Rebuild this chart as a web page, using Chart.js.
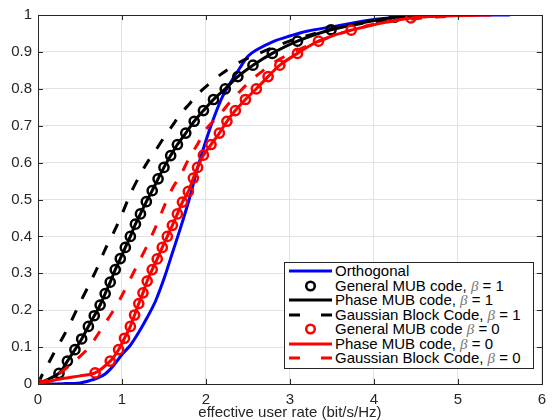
<!DOCTYPE html>
<html>
<head>
<meta charset="utf-8">
<script src="https://cdn.jsdelivr.net/npm/chart.js@4.4.1/dist/chart.umd.min.js"></script>
<style>
  html, body { margin: 0; padding: 0; background: #fff; }
  #wrap { position: relative; width: 553px; height: 420px; }
  #legend {
    position: absolute; left: 284px; top: 262px; width: 250px; height: 107px;
    border: 1px solid #262626; background: #fff; box-sizing: border-box;
    font: 15px "Liberation Sans", Arial, sans-serif; color: #000; padding-top: 1px;
  }
  .row { height: 14.5px; line-height: 14.5px; white-space: nowrap; display: flex; align-items: center; }
  .row svg { width: 50px; height: 14px; flex: none; }
  .beta { font-family: "Liberation Serif", serif; font-style: italic; color: #777; }
</style>
</head>
<body>
<div id="wrap">
  <canvas id="cdfChart" width="553" height="420"></canvas>
  <div id="legend"></div>
</div>
<script>
// Orthogonal
const orthX = [0, 0.3, 0.5, 0.6, 0.7, 0.8, 0.9, 1.0, 1.1, 1.2, 1.3, 1.4, 1.5, 1.6, 1.7, 1.8, 1.9, 2.0, 2.1, 2.2, 2.3, 2.4, 2.5, 2.6, 2.8, 3.0, 3.2, 3.5, 4.0, 4.5, 5.0, 5.62];
const orthY = [0, 0.001, 0.003, 0.008, 0.015, 0.027, 0.05, 0.08, 0.105, 0.14, 0.18, 0.225, 0.285, 0.355, 0.425, 0.5, 0.585, 0.66, 0.725, 0.78, 0.82, 0.855, 0.888, 0.905, 0.928, 0.943, 0.956, 0.968, 0.988, 0.997, 1.0, 1.0];

// General / Phase MUB code, beta = 1 (markers sit on the phase curve)
const mub1X = [0, 0.25, 0.35, 0.44, 0.52, 0.6, 0.67, 0.74, 0.8, 0.86, 0.92, 0.98, 1.04, 1.1, 1.16, 1.22, 1.29, 1.36, 1.43, 1.5, 1.58, 1.66, 1.76, 1.86, 1.97, 2.09, 2.23, 2.38, 2.56, 2.79, 3.09, 3.49, 4.25];
const mub1Y = [0, 0.029, 0.062, 0.093, 0.122, 0.156, 0.185, 0.214, 0.245, 0.276, 0.31, 0.34, 0.37, 0.40, 0.433, 0.461, 0.494, 0.524, 0.556, 0.587, 0.619, 0.649, 0.68, 0.712, 0.741, 0.771, 0.80, 0.833, 0.864, 0.896, 0.929, 0.96, 0.994];
const phase1X = mub1X.concat([4.8]);
const phase1Y = mub1Y.concat([1.0]);

// Gaussian block code, beta = 1
const gauss1X = [0, 0.05, 0.1, 0.2, 0.3, 0.4, 0.5, 0.6, 0.7, 0.8, 0.9, 1.0, 1.1, 1.2, 1.3, 1.4, 1.5, 1.6, 1.7, 1.8, 1.9, 2.0, 2.2, 2.4, 2.6, 2.8, 3.0, 3.3, 3.6, 4.0, 4.5, 5.0];
const gauss1Y = [0, 0.025, 0.045, 0.088, 0.128, 0.172, 0.22, 0.265, 0.312, 0.365, 0.41, 0.46, 0.515, 0.56, 0.6, 0.633, 0.668, 0.7, 0.733, 0.758, 0.785, 0.806, 0.843, 0.872, 0.893, 0.912, 0.93, 0.95, 0.967, 0.982, 0.994, 1.0];

// General / Phase MUB code, beta = 0
const mub0X = [0, 0.68, 0.86, 0.96, 1.03, 1.1, 1.15, 1.2, 1.25, 1.3, 1.36, 1.42, 1.48, 1.54, 1.6, 1.66, 1.72, 1.79, 1.85, 1.9, 1.97, 2.06, 2.16, 2.25, 2.35, 2.47, 2.6, 2.74, 2.88, 3.09, 3.34, 3.73, 4.44];
const mub0Y = [0, 0.03, 0.062, 0.093, 0.124, 0.156, 0.187, 0.218, 0.247, 0.279, 0.31, 0.339, 0.37, 0.40, 0.43, 0.461, 0.493, 0.522, 0.558, 0.587, 0.62, 0.649, 0.68, 0.712, 0.741, 0.771, 0.80, 0.833, 0.864, 0.896, 0.929, 0.959, 0.992];
const phase0X = [0, 0.1, 0.2, 0.36, 0.5].concat(mub0X.slice(1), [5.3]);
const phase0Y = [0, 0.005, 0.011, 0.017, 0.022].concat(mub0Y.slice(1), [1.0]);

// Gaussian block code, beta = 0
const gauss0X = [0, 0.2, 0.4, 0.6, 0.7, 0.8, 0.9, 1.0, 1.1, 1.2, 1.3, 1.4, 1.5, 1.6, 1.7, 1.8, 1.9, 2.0, 2.1, 2.2, 2.3, 2.4, 2.5, 2.6, 2.8, 3.0, 3.3, 3.6, 4.0, 4.5, 5.0, 5.4];
const gauss0Y = [0, 0.02, 0.055, 0.097, 0.13, 0.165, 0.2, 0.24, 0.285, 0.33, 0.375, 0.425, 0.48, 0.53, 0.567, 0.612, 0.65, 0.69, 0.715, 0.74, 0.768, 0.792, 0.815, 0.835, 0.87, 0.895, 0.925, 0.95, 0.975, 0.99, 0.998, 1.0];

const xTicks = [0, 1, 2, 3, 4, 5, 6];
const yTicks = [0, 0.1, 0.2, 0.3, 0.4, 0.5, 0.6, 0.7, 0.8, 0.9, 1];
const legendNames = ['Orthogonal', 'General MUB code, ', 'Phase MUB code, ', 'Gaussian Block Code, ', 'General MUB code ', 'Phase MUB code, ', 'Gaussian Block Code, '];
const legendBeta = ['', '1', '1', '1', '0', '0', '0'];

const pts = (xs, ys) => xs.map((x, i) => ({ x, y: ys[i] }));
const FONT = '"Liberation Sans", Arial, sans-serif';

const series = [
  { data: pts(orthX, orthY), color: '#0000ff', kind: 'line' },
  { data: pts(mub1X, mub1Y), color: '#000000', kind: 'marker' },
  { data: pts(phase1X, phase1Y), color: '#000000', kind: 'line' },
  { data: pts(gauss1X, gauss1Y), color: '#000000', kind: 'dash' },
  { data: pts(mub0X, mub0Y), color: '#ff0000', kind: 'marker' },
  { data: pts(phase0X, phase0Y), color: '#ff0000', kind: 'line' },
  { data: pts(gauss0X, gauss0Y), color: '#ff0000', kind: 'dash' }
];

const datasets = series.map((s, i) => ({
  label: legendNames[i] + legendBeta[i],
  data: s.data,
  borderColor: s.color,
  backgroundColor: 'transparent',
  borderWidth: 3,
  borderDash: s.kind === 'dash' ? [11, 13] : [],
  showLine: s.kind !== 'marker',
  pointRadius: s.kind === 'marker' ? 4.6 : 0,
  pointBorderWidth: 2.5,
  pointBorderColor: s.color,
  pointBackgroundColor: 'transparent',
  tension: 0.3,
  order: 10 - i
}));

// inward ticks + box, matlab style
const boxPlugin = {
  id: 'box',
  afterDraw(chart) {
    const { ctx, chartArea: a, scales } = chart;
    ctx.save();
    ctx.strokeStyle = '#262626';
    ctx.lineWidth = 1;
    ctx.beginPath();
    xTicks.forEach(v => {
      const px = Math.round(scales.x.getPixelForValue(v)) + 0.5;
      ctx.moveTo(px, a.bottom); ctx.lineTo(px, a.bottom - 5);
      ctx.moveTo(px, a.top); ctx.lineTo(px, a.top + 5);
    });
    yTicks.forEach(v => {
      const py = Math.round(scales.y.getPixelForValue(v)) + 0.5;
      ctx.moveTo(a.left, py); ctx.lineTo(a.left + 5, py);
      ctx.moveTo(a.right, py); ctx.lineTo(a.right - 5, py);
    });
    ctx.stroke();
    ctx.strokeRect(Math.round(a.left) + 0.5, Math.round(a.top) + 0.5, Math.round(a.right - a.left), Math.round(a.bottom - a.top));
    ctx.restore();
  }
};

new Chart(document.getElementById('cdfChart').getContext('2d'), {
  type: 'scatter',
  data: { datasets },
  options: {
    responsive: false,
    animation: false,
    layout: { padding: { left: 0, top: 13, right: 5, bottom: 0 } },
    plugins: { legend: { display: false }, tooltip: { enabled: false } },
    scales: {
      x: {
        type: 'linear', min: 0, max: 6,
        afterFit: s => { s.height = 36; },
        afterBuildTicks: s => { s.ticks = xTicks.map(v => ({ value: v })); },
        grid: { color: '#e3e3e3', drawTicks: false },
        border: { display: false },
        ticks: { color: '#262626', font: { family: FONT, size: 15 }, padding: 7, maxRotation: 0 },
        title: { display: true, text: 'effective user rate (bit/s/Hz)', color: '#262626', font: { family: FONT, size: 15 }, padding: { top: 0, bottom: -2 } }
      },
      y: {
        type: 'linear', min: 0, max: 1,
        afterFit: s => { s.width = 38; },
        afterBuildTicks: s => { s.ticks = yTicks.map(v => ({ value: v })); },
        grid: { color: '#e3e3e3', drawTicks: false },
        border: { display: false },
        ticks: { color: '#262626', font: { family: FONT, size: 15 }, padding: 6, callback: v => String(v) }
      }
    }
  },
  plugins: [boxPlugin]
});

// legend with italic beta
const lg = document.getElementById('legend');
series.forEach((s, i) => {
  let sample;
  if (s.kind === 'line') sample = `<line x1="4" y1="7" x2="47" y2="7" stroke="${s.color}" stroke-width="3"/>`;
  else if (s.kind === 'dash') sample = `<line x1="4" y1="7" x2="47" y2="7" stroke="${s.color}" stroke-width="3" stroke-dasharray="11 21"/>`;
  else sample = `<circle cx="25.5" cy="7" r="4.3" fill="none" stroke="${s.color}" stroke-width="2.5"/>`;
  const row = document.createElement('div');
  row.className = 'row';
  row.innerHTML = `<svg viewBox="0 0 50 14">${sample}</svg><span>${legendNames[i]}` +
    (legendBeta[i] ? `<span class="beta">\u03b2</span> = ${legendBeta[i]}` : '') + `</span>`;
  lg.appendChild(row);
});
</script>
</body>
</html>
